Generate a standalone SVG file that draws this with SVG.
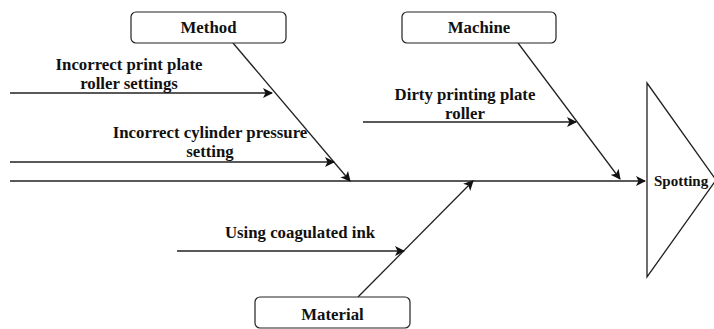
<svg xmlns="http://www.w3.org/2000/svg" width="714" height="329" viewBox="0 0 714 329">
  <style>
    .box { fill: #ffffff; stroke: #222222; stroke-width: 1.2; }
    .ln { fill: none; stroke: #222222; stroke-width: 1.3; }
    .lbl { font-family: 'Liberation Serif', 'DejaVu Serif', 'Times New Roman', serif; font-weight: bold; font-size: 16.8px; fill: #111111; text-anchor: middle; }
  </style>
  <defs>
    <marker id="arr" viewBox="0 0 10 10" refX="9" refY="5" markerWidth="10" markerHeight="10" markerUnits="userSpaceOnUse" orient="auto">
      <path d="M0,0 L10,5 L0,10 L2.5,5 Z" fill="#111111"/>
    </marker>
  </defs>
  <rect width="714" height="329" fill="#ffffff"/>

  <!-- connectors -->
  <g id="connectors">
    <!-- spine -->
    <line class="ln" x1="10" y1="181" x2="645" y2="181" marker-end="url(#arr)"/>
    <!-- category bones -->
    <line class="ln" x1="233" y1="43" x2="350" y2="181" marker-end="url(#arr)"/>
    <line class="ln" x1="518" y1="43" x2="620" y2="179" marker-end="url(#arr)"/>
    <line class="ln" x1="358" y1="297" x2="473" y2="181" marker-end="url(#arr)"/>
    <!-- cause arrows -->
    <line class="ln" x1="10" y1="93" x2="272" y2="93" marker-end="url(#arr)"/>
    <line class="ln" x1="10" y1="162" x2="334" y2="162" marker-end="url(#arr)"/>
    <line class="ln" x1="363" y1="122" x2="576" y2="122" marker-end="url(#arr)"/>
    <line class="ln" x1="177" y1="251" x2="404" y2="251" marker-end="url(#arr)"/>
  </g>

  <!-- effect head -->
  <g id="head-spotting">
    <path class="ln" d="M647,83 L716,180 L647,277 Z"/>
    <text class="lbl" x="654" y="186" style="text-anchor:start; font-size:15px">Spotting</text>
  </g>

  <g id="node-method">
    <rect class="box" x="131" y="12" width="155" height="31" rx="5"/>
    <text class="lbl" x="208.5" y="33">Method</text>
  </g>
  <g id="node-machine">
    <rect class="box" x="402" y="12" width="154" height="31" rx="5"/>
    <text class="lbl" x="479" y="33">Machine</text>
  </g>
  <g id="node-material">
    <rect class="box" x="255" y="297" width="155" height="31" rx="5"/>
    <text class="lbl" x="332.5" y="320">Material</text>
  </g>

  <g id="cause-print-plate">
    <text class="lbl" x="129" y="70">Incorrect print plate</text>
    <text class="lbl" x="129" y="89">roller settings</text>
  </g>
  <g id="cause-cylinder">
    <text class="lbl" x="210" y="138">Incorrect cylinder pressure</text>
    <text class="lbl" x="210" y="157">setting</text>
  </g>
  <g id="cause-dirty-roller">
    <text class="lbl" x="465" y="100">Dirty printing plate</text>
    <text class="lbl" x="465" y="119">roller</text>
  </g>
  <g id="cause-coagulated-ink">
    <text class="lbl" x="300" y="238">Using coagulated ink</text>
  </g>
</svg>
